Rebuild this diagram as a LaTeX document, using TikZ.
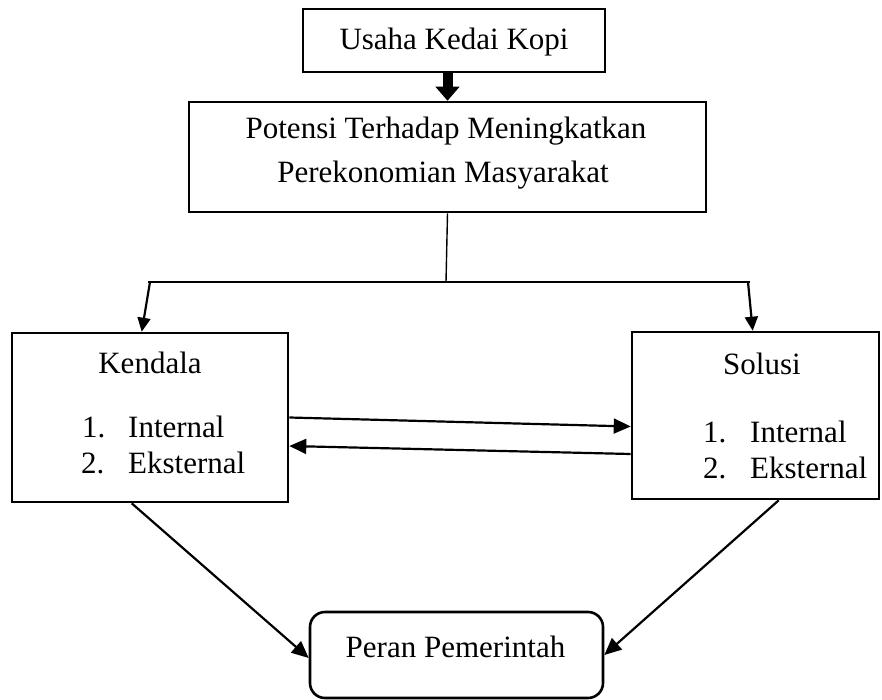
\documentclass[tikz,border=0pt]{standalone}
\usepackage{fontspec}
\setmainfont{Liberation Serif}
\usetikzlibrary{arrows.meta,calc}
\begin{document}
\begin{tikzpicture}[x=1pt,y=-1pt,
  box/.style={draw,line width=2.6pt,inner sep=0pt},
  rbox/.style={box,rounded corners=15pt},
  txt/.style={inner sep=0pt,anchor=base,font=\fontsize{31}{37}\selectfont},
  txtl/.style={txt,anchor=base west},
  arr/.style={line width=2.2pt,-{Triangle[length=17pt 0 0,width=15pt 0 0]}},
  tarr/.style={line width=2.2pt,-{Triangle[length=14pt 0 0,width=13pt 0 0]}},
  teeline/.style={line width=2pt},
  vline/.style={line width=1.4pt},
  blockarr/.style={line width=10pt,-{Triangle[length=14pt 0 0,width=24pt 0 0,line width=1pt]}}
]
\useasboundingbox (0,0) rectangle (882,700);

% boxes
\node[box,minimum width=302pt,minimum height=63pt] (usaha) at (454,40.5) {};
\node[box,minimum width=517pt,minimum height=110pt] (potensi) at (447.5,157) {};
\node[box,minimum width=276pt,minimum height=169pt] (kendala) at (150,417.5) {};
\node[box,minimum width=247pt,minimum height=167pt] (solusi) at (755.5,415.5) {};
\node[rbox,minimum width=293pt,minimum height=86pt] (peran) at (456.5,655) {};

% texts
\node[txt] (tusaha) at (454,50) {Usaha Kedai Kopi};
\node[txt] (tpot1) at (446,139) {Potensi Terhadap Meningkatkan};
\node[txt] (tpot2) at (443,183) {Perekonomian Masyarakat};
\node[txt] (tkend) at (150,373) {Kendala};
\node[txtl] (k1n) at (82,437) {1.};
\node[txtl] (k1t) at (128,437) {Internal};
\node[txtl] (k2n) at (81,473) {2.};
\node[txtl] (k2t) at (128,473) {Eksternal};
\node[txt] (tsol) at (762,374) {Solusi};
\node[txtl] (s1n) at (703,442) {1.};
\node[txtl] (s1t) at (750,442) {Internal};
\node[txtl] (s2n) at (703,478) {2.};
\node[txtl] (s2t) at (750,478) {Eksternal};
\node[txt] (tperan) at (455.5,657) {Peran Pemerintah};

% block arrow
\draw[blockarr] (usaha.south -| potensi.north) -- (potensi.north);

% tee
\coordinate (tee) at (446,282);
\coordinate (tl) at (148,282);
\coordinate (tr) at (750,282);
\coordinate (tlb) at (150,282);
\coordinate (trb) at (748,282);
\draw[vline] (potensi.south) -- (tee);
\draw[teeline] (tl) -- (tr);
\draw[tarr] (tlb) -- ($(kendala.north west)+(131,0)$);
\draw[tarr] (trb) -- ($(solusi.north west)+(122,0)$);

% horizontal arrows
\draw[arr] (kendala.east) -- ($(solusi.west)+(0,11)$);
\draw[arr] ($(solusi.west)+(0,38.5)$) -- ($(kendala.east)+(0,28.5)$);

% diagonal arrows
\draw[arr] ($(kendala.south west)+(121,0)$) -- ($(peran.west)+(0,3)$);
\draw[arr] ($(solusi.south west)+(148,0)$) -- (peran.east);
\end{tikzpicture}
\end{document}
